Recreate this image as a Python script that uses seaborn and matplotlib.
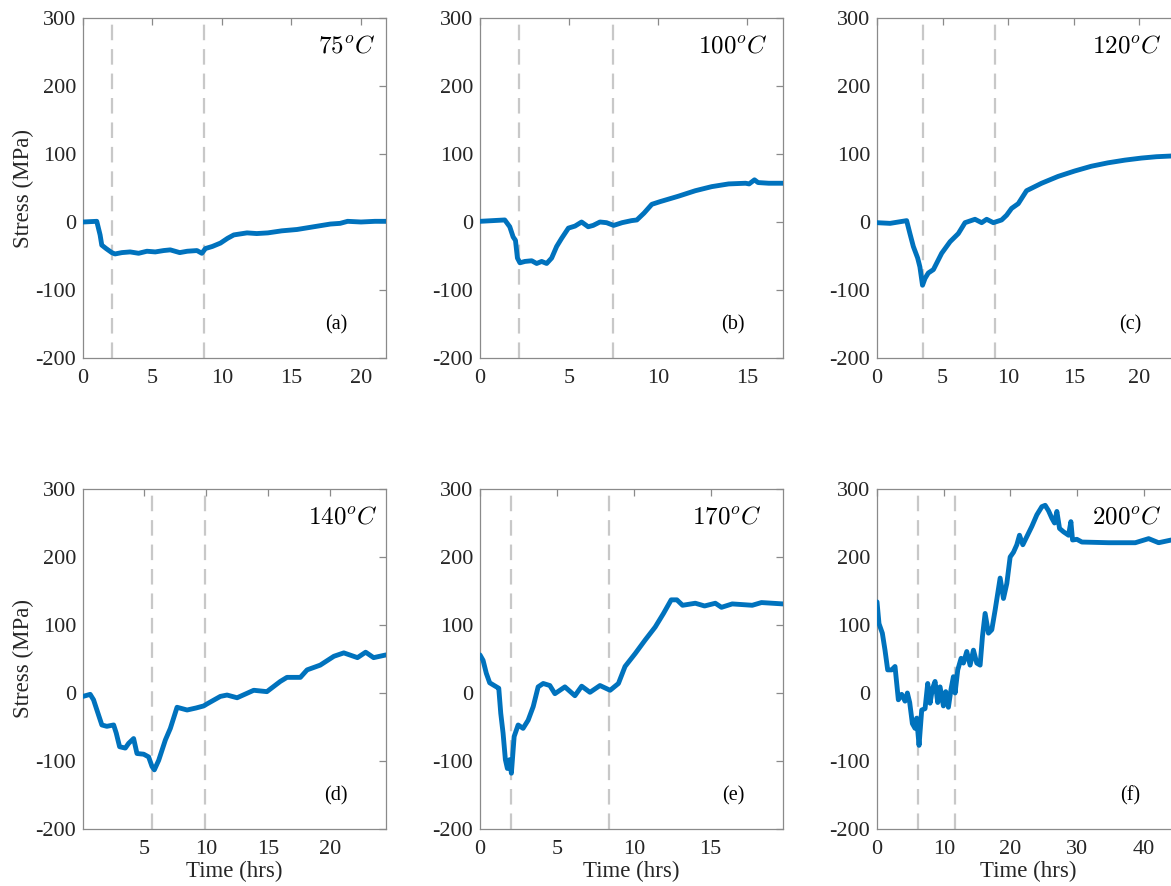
import numpy as np
import pandas as pd
import matplotlib
matplotlib.use("Agg")
import matplotlib.pyplot as plt
import seaborn as sns

# ---- data (time in hrs, stress in MPa) ----
t_a = [0, 0.99, 1.23, 1.35, 1.66, 2.07, 2.3, 2.8, 3.39, 4.0, 4.6, 5.2, 5.8, 6.28, 6.96, 7.5, 8.2,
       8.55, 8.81, 9.3, 9.89, 10.4, 10.85, 11.8, 12.5, 13.3, 14.3, 15.4, 16.6, 17.8, 18.5, 19.04,
       20.0, 21.0, 21.8]
s_a = [0, 1, -19, -34, -39, -45, -47, -45, -44, -46, -43, -44, -42, -41, -45, -43, -42,
       -46, -39, -36, -31, -24, -19, -16, -17, -16, -13, -11, -7, -3, -2, 1,
       0, 1, 1]

t_b = [0, 0.7, 1.39, 1.67, 1.86, 1.99, 2.1, 2.24, 2.52, 2.9, 3.18, 3.46, 3.74, 4.02, 4.3, 4.58,
       4.96, 5.33, 5.7, 6.07, 6.35, 6.73, 7.1, 7.5, 7.97, 8.5, 8.8, 9.2, 9.64, 10.11, 11.14,
       12.08, 13.0, 13.95, 14.9, 15.1, 15.4, 15.6, 16.2, 16.9, 17.0]
s_b = [1, 2, 3, -7, -22, -27, -53, -60, -58, -57, -61, -58, -61, -53, -36, -24,
       -9, -6, 0, -7, -5, 0, -1, -5, -1, 2, 3, 13, 26, 30, 38,
       46, 52, 56, 57, 56, 62, 58, 57, 57, 57]

t_c = [0, 1.0, 2.26, 2.51, 2.77, 3.1, 3.27, 3.47, 3.66, 3.91, 4.3, 4.93, 5.57, 6.2, 6.71, 7.47,
       7.98, 8.36, 8.87, 9.5, 9.88, 10.26, 10.77, 11.4, 12.55, 13.8, 15.07, 16.34, 17.6, 18.9,
       20.15, 21.3, 22.4, 23.1]
s_c = [-1, -2, 2, -17, -36, -53, -66, -93, -83, -75, -70, -46, -29, -17, -1, 4,
       -1, 4, -1, 3, 10, 20, 27, 46, 57, 67, 75, 82, 87, 91,
       94, 96, 97, 98]

t_d = [0.08, 0.66, 0.93, 1.2, 1.6, 2.0, 2.55, 2.76, 3.03, 3.49, 3.76, 4.16, 4.43, 4.97, 5.37,
       5.64, 5.83, 6.18, 6.72, 7.12, 7.66, 8.47, 9.2, 9.81, 10.08, 11.15, 11.69, 12.5, 13.84,
       14.9, 15.98, 16.52, 17.6, 18.14, 19.2, 20.3, 21.1, 22.2, 22.86, 23.5, 24.5]
s_d = [-5, -2, -10, -25, -47, -49, -47, -59, -79, -81, -74, -67, -89, -90, -94,
       -108, -113, -99, -69, -52, -21, -25, -22, -19, -16, -5, -3, -7, 4,
       2, 17, 23, 23, 34, 41, 54, 59, 52, 60, 52, 56]

t_e = [0, 0.2, 0.41, 0.63, 1.07, 1.22, 1.35, 1.5, 1.65, 1.78, 1.93, 2.04, 2.22, 2.48, 2.8, 3.13,
       3.46, 3.78, 4.11, 4.54, 4.87, 5.52, 6.17, 6.61, 7.15, 7.8, 8.46, 9.0, 9.43, 10.09, 10.74,
       11.39, 11.93, 12.43, 12.8, 13.17, 14.0, 14.6, 15.3, 15.7, 16.4, 17.7, 18.3, 19.7]
s_e = [56, 48, 29, 15, 9, 7, -30, -59, -98, -111, -98, -118, -64, -47, -52, -40,
       -20, 9, 14, 11, -1, 9, -4, 10, 1, 11, 4, 14, 39, 58, 78,
       97, 117, 137, 137, 129, 132, 128, 132, 126, 131, 129, 133, 131]

t_f = [0, 0.3, 0.8, 1.2, 1.6, 2.2, 2.7, 3.2, 3.7, 4.2, 4.55, 4.9, 5.3, 5.7, 5.94, 6.3, 6.7, 7.2,
       7.6, 7.95, 8.3, 8.7, 9.1, 9.45, 9.95, 10.3, 10.7, 11.1, 11.45, 11.7, 12.1, 12.6, 12.95,
       13.45, 13.95, 14.45, 14.95, 15.45, 15.8, 16.2, 16.7, 17.2, 17.7, 18.45, 18.95, 19.45,
       19.95, 20.45, 20.95, 21.35, 21.85, 22.45, 23.2, 23.95, 24.7, 25.2, 25.7, 26.2, 26.6,
       26.95, 27.35, 27.95, 28.7, 29.05, 29.3, 29.95, 30.7, 34.7, 38.7, 40.7, 42.2, 44.1, 45.4]
s_f = [134, 102, 88, 63, 34, 34, 39, -10, -2, -12, 0, -14, -45, -52, -37, -77, -25, -23,
       14, -15, 6, 17, -14, 9, -19, 2, -21, 6, 24, 0, 34, 51, 44,
       61, 41, 63, 44, 41, 83, 117, 88, 93, 122, 169, 139, 161,
       200, 207, 218, 232, 218, 230, 245, 262, 274, 276, 268, 257, 250,
       267, 242, 237, 232, 252, 225, 226, 222, 221, 221, 227, 221, 225, 224]

times = [t_a, t_b, t_c, t_d, t_e, t_f]
stresses = [s_a, s_b, s_c, s_d, s_e, s_f]
temps = ["75", "100", "120", "140", "170", "200"]
letters = ["a", "b", "c", "d", "e", "f"]
marks = [(2.1, 8.7), (2.2, 7.45), (3.47, 8.97), (5.62, 9.95), (2.02, 8.4), (6.07, 11.75)]
xlims = [(0, 21.8), (0, 17), (0, 23.1), (0.08, 24.5), (0, 19.7), (0, 45.4)]
xticks = [[0, 5, 10, 15, 20], [0, 5, 10, 15], [0, 5, 10, 15, 20],
          [5, 10, 15, 20], [0, 5, 10, 15], [0, 10, 20, 30, 40]]
yticks = [-200, -100, 0, 100, 200, 300]

# ---- style ----
sns.set_style("white")
plt.rcParams["font.family"] = ["Liberation Serif", "DejaVu Serif"]
plt.rcParams["mathtext.fontset"] = "cm"
plt.rcParams["axes.unicode_minus"] = False

BLUE = "#0072BD"
SPINE = "#8a8a8a"
TXT = "#262626"

fig = plt.figure(figsize=(11.71, 8.86), dpi=100)
lefts = [83, 480, 877]
tops = [18, 489]
W, H = 303, 340
temp_x = [0.964, 0.949, 0.94, 0.974, 0.93, 0.94]

for i in range(6):
    r, c = divmod(i, 3)
    ax = fig.add_axes([lefts[c] / 1171, (886 - tops[r] - H) / 886, W / 1171, H / 886])
    df = pd.DataFrame({"Time (hrs)": times[i], "Stress (MPa)": stresses[i]})
    for m in marks[i]:
        ax.axvline(m, color="#c8c8c8", lw=1.6, ls=(0, (7, 4)), zorder=1)
    sns.lineplot(data=df, x="Time (hrs)", y="Stress (MPa)", ax=ax, color=BLUE, lw=3.5,
                 estimator=None, sort=False, zorder=3)
    ax.set_xlim(*xlims[i])
    ax.set_ylim(-200, 300)
    ax.set_xticks(xticks[i])
    ax.set_yticks(yticks)
    ax.tick_params(direction="in", length=5, width=0.9, color=SPINE, labelcolor=TXT,
                   labelsize=16, top=True, right=True)
    ax.tick_params(axis="x", pad=8)
    ax.tick_params(axis="y", pad=5)
    for sp in ax.spines.values():
        sp.set_color(SPINE)
        sp.set_linewidth(0.9)
    if c == 0:
        ax.set_ylabel("Stress (MPa)", fontsize=16.5, color=TXT, labelpad=1)
    else:
        ax.set_ylabel("")
    if r == 1:
        ax.set_xlabel("Time (hrs)", fontsize=16.5, color=TXT, labelpad=1)
    else:
        ax.set_xlabel("")
    ax.text(temp_x[i], 0.915, r"$%s^oC$" % temps[i], transform=ax.transAxes,
            ha="right", va="center", fontsize=18, color="black")
    ax.text(0.836, 0.097, "(%s)" % letters[i], transform=ax.transAxes,
            ha="center", va="center", fontsize=14.5, color="black")

fig.savefig("out.png", dpi=100)
